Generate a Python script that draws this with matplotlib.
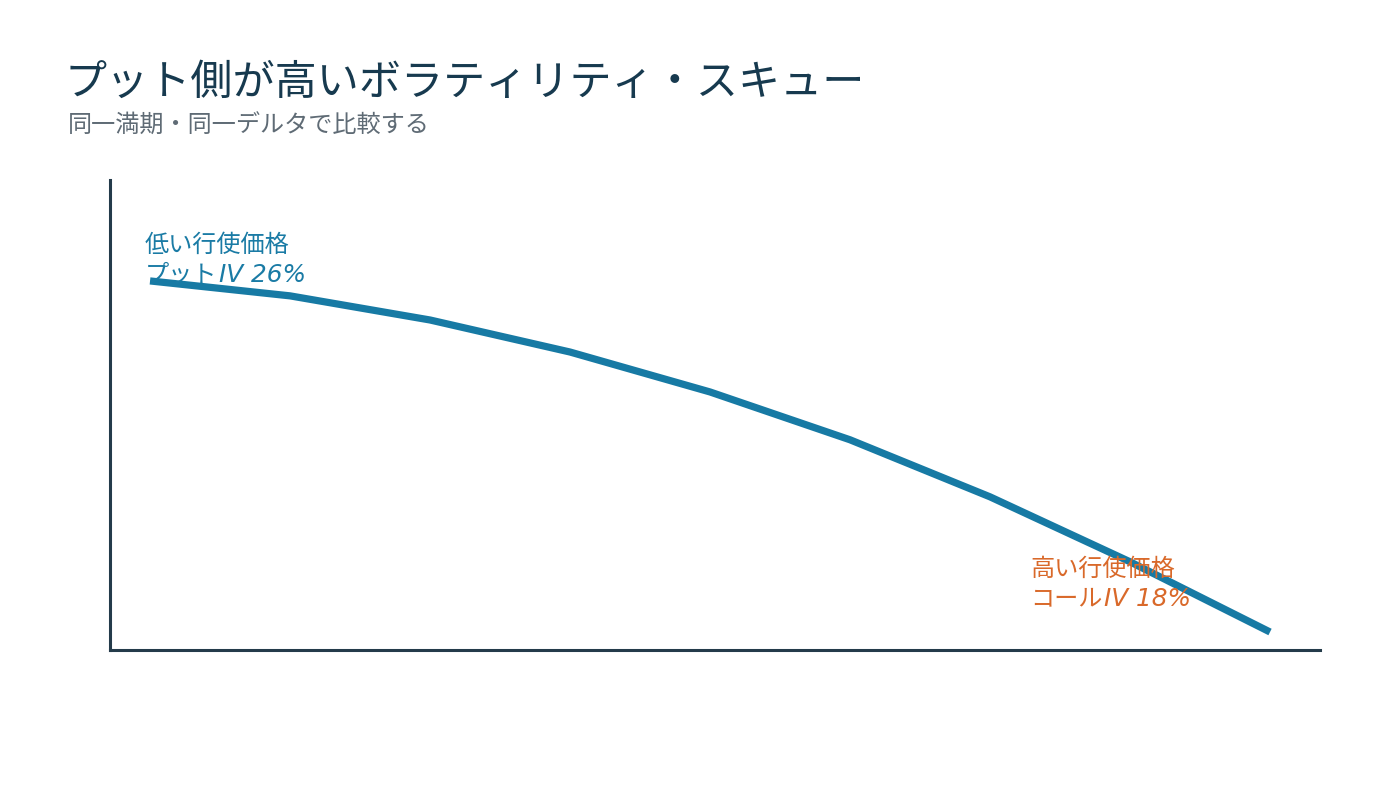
import numpy as np
import matplotlib
matplotlib.use('Agg')
import matplotlib.pyplot as plt

plt.rcParams['font.family'] = ['Noto Sans CJK JP', 'DejaVu Sans']

# データ（行使価格の低い順）
strike_idx = np.arange(9)
iv = [26.0, 25.66, 25.11, 24.38, 23.47, 22.38, 21.08, 19.6, 18.0]

title = 'プット側が高いボラティリティ・スキュー'
subtitle = '同一満期・同一デルタで比較する'
put_label = '低い行使価格'
put_kind = 'プット'
call_label = '高い行使価格'
call_kind = 'コール'

line_col = '#177aa4'
put_col = '#1a7ba5'
call_col = '#d9692a'
axis_col = '#243b4a'

fig = plt.figure(figsize=(14, 7.88), dpi=100)
ax = fig.add_axes([110/1400, 1-650/788, 1210/1400, 470/788])

ax.plot(strike_idx, iv, color=line_col, linewidth=5.2, solid_capstyle='butt', zorder=2)

ax.set_xlim(-0.286, 8.357)
ax.set_ylim(17.59, 28.30)
ax.set_xticks([])
ax.set_yticks([])
for s in ('top', 'right'):
    ax.spines[s].set_visible(False)
for s in ('left', 'bottom'):
    ax.spines[s].set_color(axis_col)
    ax.spines[s].set_linewidth(2.2)

# 注記（左端：プット）
t2 = ax.annotate(put_kind, xy=(strike_idx[0], iv[0]), xytext=(-5, 0),
                 textcoords='offset pixels', color=put_col, fontsize=17.4,
                 va='baseline', ha='left', zorder=3)
ax.annotate(put_label, xy=(strike_idx[0], iv[0]), xytext=(-5, 29),
            textcoords='offset pixels', color=put_col, fontsize=17.4,
            va='baseline', ha='left', zorder=3)
ax.annotate('IV %d%%' % iv[0], xy=(1, 0), xycoords=t2, xytext=(2, 0),
            textcoords='offset pixels', color=put_col,
            fontsize=17.8, family='DejaVu Sans', style='italic',
            va='bottom', ha='left', zorder=3)

# 注記（右端：コール）
t4 = ax.annotate(call_kind, xy=(strike_idx[-1], iv[-1]), xytext=(-240, 27),
                 textcoords='offset pixels', color=call_col, fontsize=17.4,
                 va='baseline', ha='left', zorder=3)
ax.annotate(call_label, xy=(strike_idx[-1], iv[-1]), xytext=(-240, 56),
            textcoords='offset pixels', color=call_col, fontsize=17.4,
            va='baseline', ha='left', zorder=3)
ax.annotate('IV %d%%' % iv[-1], xy=(1, 0), xycoords=t4, xytext=(2, 0),
            textcoords='offset pixels', color=call_col,
            fontsize=17.8, family='DejaVu Sans', style='italic',
            va='bottom', ha='left', zorder=3)

fig.text(65/1400, 1-95/788, title, fontsize=30.3, color='#173a4f', va='baseline', ha='left')
fig.text(68/1400, 1-133/788, subtitle, fontsize=17.4, color='#5f6b75', va='baseline', ha='left')

fig.savefig('out.png', dpi=100, facecolor='white')
